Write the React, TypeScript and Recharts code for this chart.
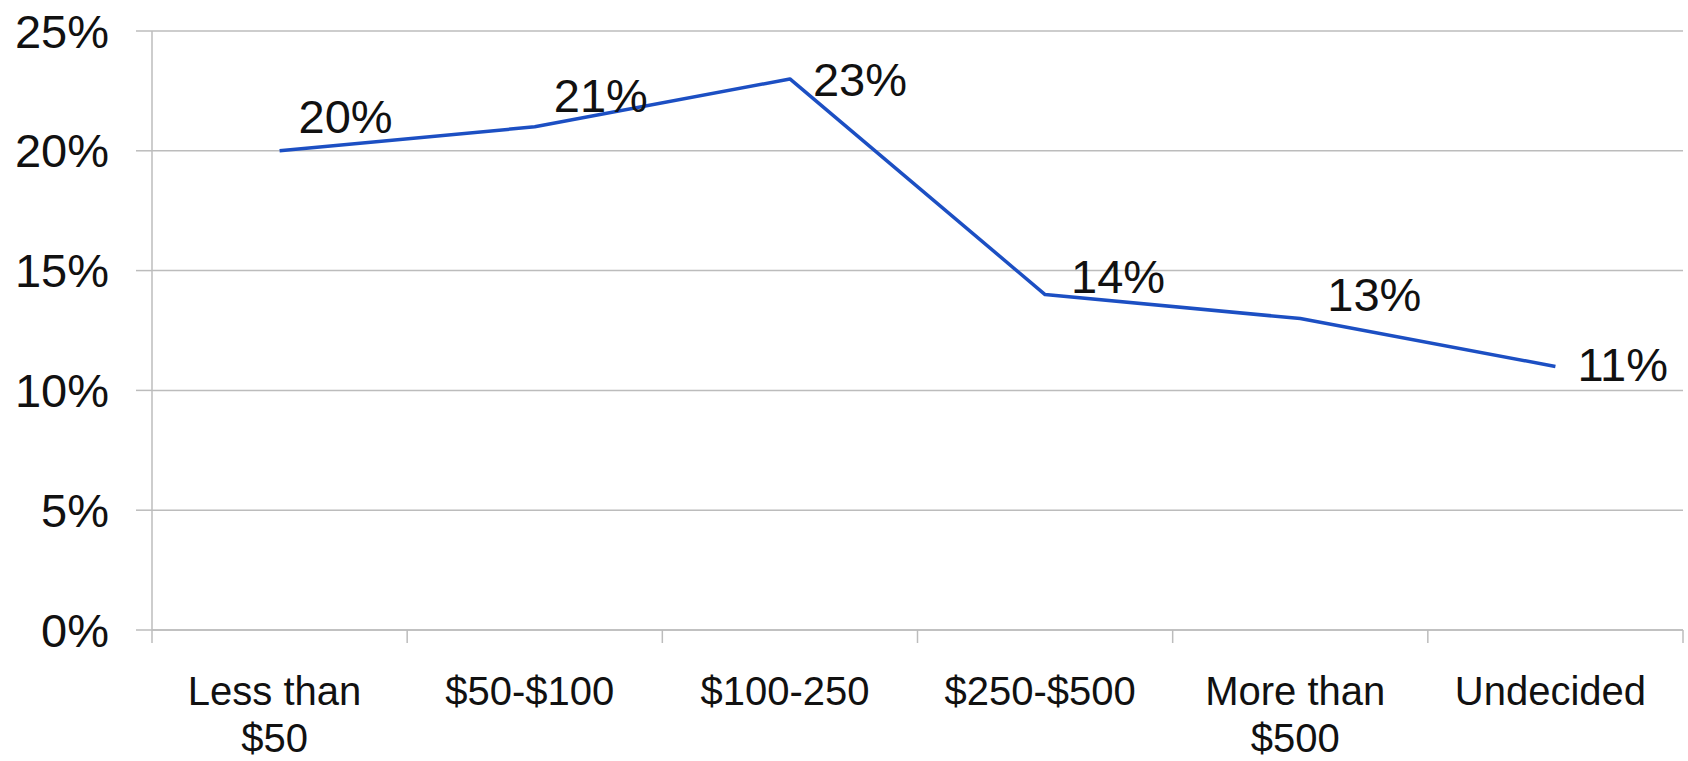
import React from 'react';
import { CartesianGrid, Line, LineChart, XAxis, YAxis } from 'recharts';

// Budget ranges (multi-line labels split on \n)
const categories = [
  'Less than\n$50',
  '$50-$100',
  '$100-250',
  '$250-$500',
  'More than\n$500',
  'Undecided',
];
const shares = [20, 21, 23, 14, 13, 11];
const yTicks = [0, 5, 10, 15, 20, 25];

// label nudges (dx from point to text start, dy to baseline)
const labelOffsets = [
  { dx: 19, dy: -18 },
  { dx: 19, dy: -15 },
  { dx: 23, dy: 17 },
  { dx: 26, dy: -2 },
  { dx: 27, dy: -8 },
  { dx: 22, dy: 15 },
];

const data = shares.map((v, i) => ({ pos: i + 0.5, share: v }));
const xTicks = [...categories.map((_, i) => i), categories.length, ...categories.map((_, i) => i + 0.5)].sort(
  (a, b) => a - b
);

const FONT = '"Liberation Sans", Arial, sans-serif';
const GRID = '#bcbcbc';
const BLUE = '#1c4fc3';

const CategoryTick = (props: any) => {
  const { x, y, payload } = props;
  const v = payload.value as number;
  if (Number.isInteger(v)) {
    return <line x1={x} x2={x} y1={y} y2={y + 13} stroke={GRID} strokeWidth={1.5} />;
  }
  const lines = categories[Math.floor(v)].split('\n');
  return (
    <text x={x - 5} y={y + 75} textAnchor="middle" fontFamily={FONT} fontSize={40} fill="#111">
      {lines.map((t, i) => (
        <tspan key={i} x={x - 5} dy={i === 0 ? 0 : 47}>
          {t}
        </tspan>
      ))}
    </text>
  );
};

const renderLabel = (props: any) => {
  const { x, y, value, index } = props;
  const off = labelOffsets[index] || { dx: 20, dy: 0 };
  return (
    <text x={x + off.dx} y={y + off.dy} fontFamily={FONT} fontSize={47} fill="#111">
      {value}%
    </text>
  );
};

export default function App() {
  return (
    <div style={{ position: 'absolute', left: 0, top: 0, background: '#fff' }}>
      <LineChart width={1688} height={761} data={data} margin={{ top: 31, right: 5, left: 0, bottom: 0 }}>
        <CartesianGrid vertical={false} stroke={GRID} strokeWidth={1.5} />
        <XAxis
          dataKey="pos"
          type="number"
          domain={[0, categories.length]}
          ticks={xTicks}
          interval={0}
          height={131}
          tickSize={0}
          tickMargin={0}
          tickLine={false}
          axisLine={{ stroke: GRID, strokeWidth: 1.5 }}
          tick={<CategoryTick />}
        />
        <YAxis
          width={152}
          domain={[0, 25]}
          ticks={yTicks}
          interval={0}
          tickSize={16}
          tickMargin={27}
          tickLine={{ stroke: GRID, strokeWidth: 1.5 }}
          axisLine={{ stroke: GRID, strokeWidth: 1.5 }}
          tickFormatter={(v) => `${v}%`}
          tick={{ fontSize: 47, fontFamily: FONT, fill: '#111' }}
        />
        <Line
          dataKey="share"
          stroke={BLUE}
          strokeWidth={3.5}
          strokeLinejoin="round"
          dot={false}
          activeDot={false}
          isAnimationActive={false}
          label={renderLabel}
        />
      </LineChart>
    </div>
  );
}
